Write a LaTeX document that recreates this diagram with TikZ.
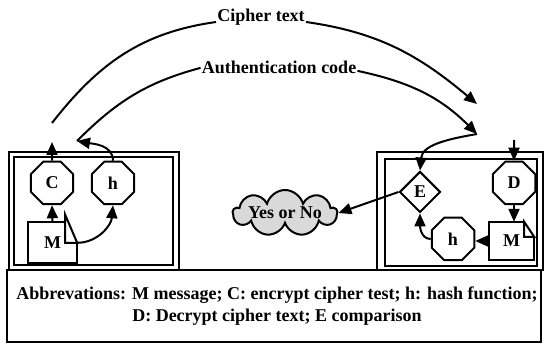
\documentclass[tikz,border=0pt]{standalone}
\usepackage{fontspec}
\setmainfont{Liberation Serif}
\usetikzlibrary{arrows.meta,shapes.geometric,shapes.symbols,calc}

\begin{document}
\begin{tikzpicture}[x=1pt,y=1pt,>={Triangle[length=13pt,width=11pt]},font=\fontsize{18}{22}\selectfont\bfseries]

% Stili
\tikzset{
  outerbox/.style={line width=2.5pt},
  innerbox/.style={line width=2pt},
  octa/.style={draw,line width=2pt,regular polygon,regular polygon sides=8,minimum size=46pt,inner sep=0pt},
  link/.style={line width=2pt},
}

\useasboundingbox (0,0) rectangle (544,345);

% --- Riquadri ---
\draw[outerbox] (9,75) rectangle (179,193);
\draw[innerbox] (14,80) rectangle (173,188);
\draw[outerbox] (377,75) rectangle (543,193);
\draw[innerbox] (385,79) rectangle (537,186);
\draw[outerbox] (7,3) rectangle (541,75);

% Legenda
\node[align=center] (legend) at (277,39) {Abbrevations: M message; C: encrypt cipher test; h: hash function;\\ D: Decrypt cipher text; E comparison};

% --- Mittente ---
\node[octa] (C) at (52,162) {C};
\node[octa] (h1) at (113,162) {h};
\node[minimum width=49pt,minimum height=41pt,inner sep=0pt] (M1) at (52.5,102.5) {M};
\draw[innerbox] ($(M1.north east)+(-12,0)$) -- (M1.north west) -- (M1.south west) -- (M1.south east) -- ($(M1.north east)+(0,-21)$);
\draw[innerbox] ($(M1.north east)+(-12,7)$) -- ++(0,-28) -- ++(12,0) -- cycle;

% --- Destinatario ---
\node[draw,diamond,line width=2pt,minimum width=41pt,minimum height=41pt,inner sep=0pt] (E) at (420,153) {E};
\node[octa] (D) at (514,162) {D};
\node[octa] (h2) at (453,106) {h};
\node[minimum width=45pt,minimum height=38pt,inner sep=0pt] (M2) at (511.5,104) {M};
\draw[innerbox] ($(M2.north east)+(-10,0)$) -- (M2.north west) -- (M2.south west) -- (M2.south east) -- ($(M2.north east)+(0,-15)$);
\draw[innerbox] ($(M2.north east)+(-10,0)$) -- ++(0,-15) -- ++(10,0) -- cycle;

% Nuvola
\node[cloud,draw,fill=gray!30,line width=2pt,cloud puffs=9,cloud ignores aspect,minimum width=104pt,minimum height=46pt,inner sep=0pt] (yesno) at (285,132) {};
\node (yesnoText) at (yesno.center) {Yes or No};

% Etichette degli archi
\node[anchor=base,inner sep=1pt] (cipher) at (261,323) {Cipher text};
\node[anchor=base,inner sep=1pt] (auth) at (279,271) {Authentication code};

\coordinate (cStart) at (52,222);
\coordinate (cEnd) at (477,241);
\coordinate (aStart) at (77,204);
\coordinate (aEnd) at (477,211);
\coordinate (cUp) at (52,203);
\coordinate (dIn) at (514,205);

% Frecce interne
\draw[link,->] (M1.north) -- (C.south);
\draw[link,->] (C.north) -- (cUp);
\draw[link,->] ($(M1.north east)+(0,-21)$) to[out=0,in=-95] (h1.south);
\draw[link,->] (h1.north) to[out=90,in=-10] (aStart);

\draw[link,->] (dIn) -- (D.north);
\draw[link,->] (D.south) -- (D.south |- M2.north);
\draw[link,->] (M2.west) -- (M2.west -| h2.east);
\draw[link,->] (h2.west) to[out=180,in=-90] (E.south);
\draw[link,->] (E.west) -- (yesno.east);

% Archi superiori
\draw[link] (cStart) to[out=52,in=188] (cipher.base west);
\draw[link,->] (cipher.base east) to[out=-8,in=140] (cEnd);
\draw[link] (aStart) to[out=45,in=195] (auth.west);
\draw[link,->] ($(auth.east)+(0,-3)$) to[out=-12,in=135] (aEnd);
\draw[link,->] (aEnd) to[out=190,in=85] (E.north);

\end{tikzpicture}
\end{document}
